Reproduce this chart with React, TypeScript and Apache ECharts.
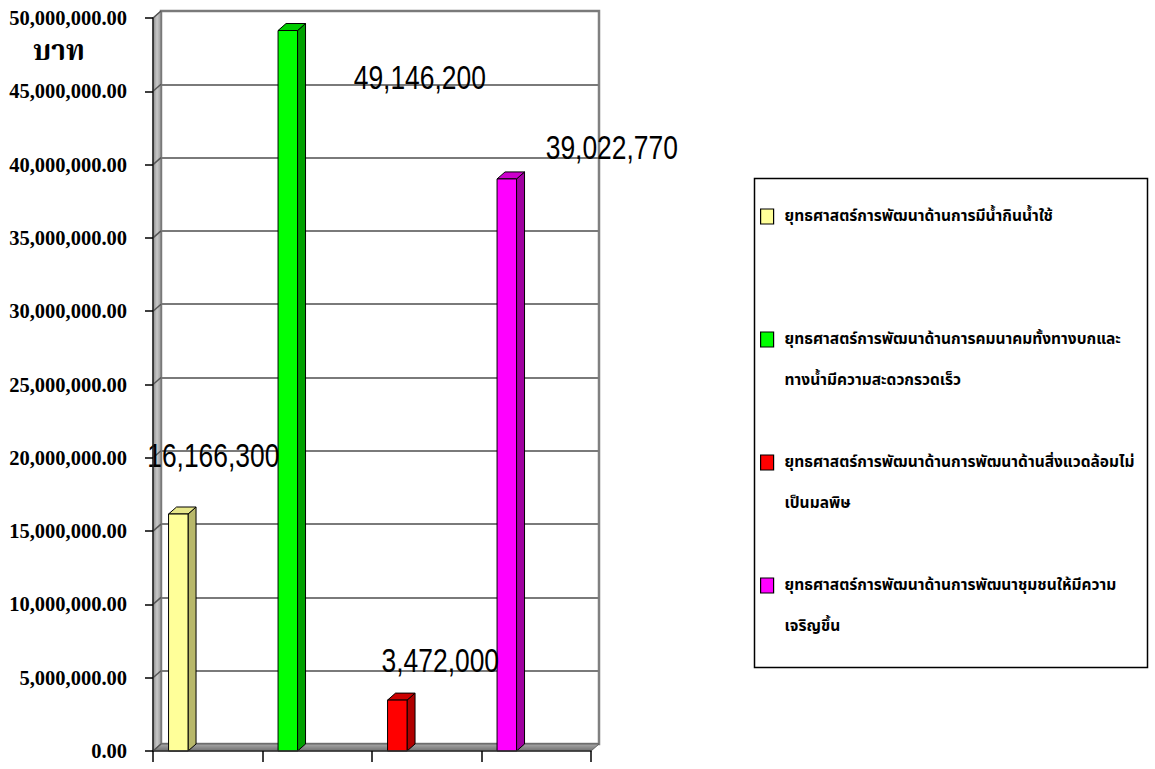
import React, { useEffect, useRef } from 'react';
import * as echarts from 'echarts';

// ---- data ----
const categories: string[] = [
  'ยุทธศาสตร์การพัฒนาด้านการมีน้ำกินน้ำใช้',
  'ยุทธศาสตร์การพัฒนาด้านการคมนาคมทั้งทางบกและทางน้ำมีความสะดวกรวดเร็ว',
  'ยุทธศาสตร์การพัฒนาด้านการพัฒนาด้านสิ่งแวดล้อมไม่เป็นมลพิษ',
  'ยุทธศาสตร์การพัฒนาด้านการพัฒนาชุมชนให้มีความเจริญขึ้น',
];
const legendLines: string[][] = [
  ['ยุทธศาสตร์การพัฒนาด้านการมีน้ำกินน้ำใช้'],
  ['ยุทธศาสตร์การพัฒนาด้านการคมนาคมทั้งทางบกและ', 'ทางน้ำมีความสะดวกรวดเร็ว'],
  ['ยุทธศาสตร์การพัฒนาด้านการพัฒนาด้านสิ่งแวดล้อมไม่', 'เป็นมลพิษ'],
  ['ยุทธศาสตร์การพัฒนาด้านการพัฒนาชุมชนให้มีความ', 'เจริญขึ้น'],
];
const values: number[] = [16166300, 49146200, 3472000, 39022770];
const yTickValues: number[] = [0, 5000000, 10000000, 15000000, 20000000, 25000000, 30000000, 35000000, 40000000, 45000000, 50000000];
const yUnit = 'บาท';

// ---- styles / layout ----
const frontColors = ['#FFFF99', '#00FF00', '#FF0000', '#FF00FF'];
const sideColors = ['#B8B86A', '#00A000', '#B00000', '#A000A0'];
const topColors = ['#E8E88A', '#00CC00', '#CC0000', '#CC00CC'];
const labelOffsets: number[][] = [[35, -59], [132, 47], [43, -40], [105, -32]];
const BAR_OFFSET = 0.142;
const BAR_WIDTH = 0.178;
const DX = 8;
const DY = 7;
const THAI_SERIF = "'Noto Serif Thai','Noto Sans Thai','Loma','Garuda','Tlwg Typo','Liberation Serif',serif";
const THAI_SANS = "'Noto Sans Thai','Loma','Garuda','Tlwg Typo','Liberation Sans',sans-serif";

const fmtAxis = (n: number) =>
  n.toLocaleString('en-US', { minimumFractionDigits: 2, maximumFractionDigits: 2 });

export default function App() {
  const ref = useRef<HTMLDivElement>(null);
  useEffect(() => {
    if (!ref.current) return;
    const chart = echarts.init(ref.current, null, { renderer: 'svg' });
    const yMax = yTickValues[yTickValues.length - 1];

    const barSeries = categories.map((name, i) => ({
      type: 'custom',
      name,
      xAxisIndex: 0,
      yAxisIndex: 0,
      z: 3,
      itemStyle: { color: frontColors[i] },
      data: [[i, values[i]]],
      renderItem: (params: any, api: any) => {
        const idx = api.value(0);
        const v = api.value(1);
        const c = api.coord([idx, v]);
        const b = api.coord([idx, 0]);
        const band = api.size([1, 0])[0];
        const x0 = c[0] - band / 2 + band * BAR_OFFSET;
        const w = band * BAR_WIDTH;
        const top = c[1];
        const bottom = b[1];
        const off = labelOffsets[idx];
        return {
          type: 'group',
          children: [
            {
              type: 'polygon',
              shape: { points: [[x0 + w, bottom], [x0 + w, top], [x0 + w + DX, top - DY], [x0 + w + DX, bottom - DY]] },
              style: { fill: sideColors[idx], stroke: '#000', lineWidth: 1 },
            },
            {
              type: 'polygon',
              shape: { points: [[x0, top], [x0 + DX, top - DY], [x0 + w + DX, top - DY], [x0 + w, top]] },
              style: { fill: topColors[idx], stroke: '#000', lineWidth: 1 },
            },
            {
              type: 'rect',
              shape: { x: x0, y: top, width: w, height: bottom - top },
              style: { fill: frontColors[idx], stroke: '#000', lineWidth: 1 },
            },
            {
              type: 'text',
              x: x0 + w / 2 + off[0],
              y: top + off[1],
              scaleX: 0.8,
              z2: 10,
              style: {
                text: values[idx].toLocaleString('en-US'),
                font: "33px 'Liberation Sans',Arial,sans-serif",
                fill: '#000',
                align: 'center',
                verticalAlign: 'middle',
              },
            },
          ],
        };
      },
    }));

    const frameSeries = {
      type: 'custom',
      name: '__frame',
      xAxisIndex: 0,
      yAxisIndex: 0,
      z: 1,
      silent: true,
      data: [[0, 0]],
      renderItem: (params: any, api: any) => {
        const band = api.size([1, 0])[0];
        const left = api.coord([0, 0])[0] - band / 2;
        const right = api.coord([categories.length - 1, 0])[0] + band / 2;
        const y0 = api.coord([0, 0])[1];
        const yTop = api.coord([0, yMax])[1];
        const children: any[] = [
          {
            type: 'polygon',
            shape: { points: [[left, y0], [left, yTop], [left + DX, yTop - DY], [left + DX, y0 - DY]] },
            style: {
              fill: new echarts.graphic.LinearGradient(0, 0, 1, 0, [
                { offset: 0, color: '#8a8a8a' },
                { offset: 0.5, color: '#c8c8c8' },
                { offset: 1, color: '#9a9a9a' },
              ]),
              stroke: '#707070',
              lineWidth: 1,
            },
          },
          {
            type: 'polygon',
            shape: { points: [[left, y0], [right, y0], [right + DX, y0 - DY], [left + DX, y0 - DY]] },
            style: {
              fill: new echarts.graphic.LinearGradient(0, 0, 0, 1, [
                { offset: 0, color: '#a8a8a8' },
                { offset: 1, color: '#707070' },
              ]),
              stroke: '#606060',
              lineWidth: 1,
            },
          },
        ];
        yTickValues.forEach((t) => {
          const y = api.coord([0, t])[1];
          children.push({
            type: 'line',
            shape: { x1: left, y1: y, x2: left + DX, y2: y - DY },
            style: { stroke: '#555', lineWidth: 1.5 },
          });
        });
        return { type: 'group', children };
      },
    };

    const option: any = {
      animation: false,
      backgroundColor: '#fff',
      grid: [
        { left: 153, right: 1155 - 591, top: 18, bottom: 769 - 751, containLabel: false },
        {
          left: 153 + DX, right: 1155 - 591 - DX, top: 18 - DY, bottom: 769 - 751 + DY,
          show: true, backgroundColor: '#fff', borderColor: '#808080', borderWidth: 2.5, z: 0,
        },
      ],
      xAxis: [
        {
          type: 'category',
          gridIndex: 0,
          data: categories,
          boundaryGap: true,
          axisLine: { show: true, lineStyle: { color: '#303030', width: 1.5 } },
          axisTick: { show: true, interval: 0, length: 11, lineStyle: { color: '#000', width: 1.5 } },
          axisLabel: { show: false },
          splitLine: { show: false },
          z: 4,
        },
        {
          type: 'category',
          gridIndex: 1,
          data: categories,
          show: false,
        },
      ],
      yAxis: [
        {
          type: 'value',
          gridIndex: 0,
          min: 0,
          max: yMax,
          interval: 5000000,
          axisLine: { show: true, lineStyle: { color: '#202020', width: 1.5 } },
          axisTick: { show: true, length: 8, lineStyle: { color: '#000', width: 1.5 } },
          axisLabel: {
            formatter: (v: number) => fmtAxis(v),
            margin: 26,
            color: '#000',
            fontFamily: "'Liberation Serif','Times New Roman',serif",
            fontWeight: 'bold',
            fontSize: 20.5,
          },
          splitLine: { show: false },
          z: 4,
        },
        {
          type: 'value',
          gridIndex: 1,
          min: 0,
          max: yMax,
          interval: 5000000,
          axisLine: { show: false },
          axisTick: { show: false },
          axisLabel: { show: false },
          splitLine: { show: true, lineStyle: { color: '#7a7a7a', width: 2 } },
        },
      ],
      legend: {
        data: categories,
        orient: 'vertical',
        left: 760,
        top: 155,
        padding: 0,
        itemGap: 0,
        itemWidth: 13,
        itemHeight: 15,
        icon: 'rect',
        itemStyle: { borderColor: '#000', borderWidth: 1.2 },
        selectedMode: false,
        formatter: (name: string) => {
          const i = categories.indexOf(name);
          const lines = legendLines[i];
          return [' ', lines[0], lines[1] || ' '].join('\n');
        },
        textStyle: {
          fontSize: 15.5,
          fontWeight: 'bold',
          lineHeight: 41,
          color: '#000',
          fontFamily: THAI_SANS,
          padding: [0, 0, 0, 6],
        },
      },
      graphic: [
        {
          type: 'rect',
          left: 752,
          top: 176,
          shape: { width: 393, height: 489 },
          style: { fill: 'none', stroke: '#000', lineWidth: 1.5 },
          z: 0,
        },
        {
          type: 'text',
          left: 33,
          top: 38,
          style: {
            text: yUnit,
            font: `bold 28px ${THAI_SERIF}`,
            fill: '#000',
          },
        },
      ],
      series: [frameSeries, ...barSeries],
    };
    chart.setOption(option);
    return () => chart.dispose();
  }, []);
  return (
    <div
      ref={ref}
      style={{ position: 'absolute', left: 0, top: 0, width: 1155, height: 769 }}
    />
  );
}
